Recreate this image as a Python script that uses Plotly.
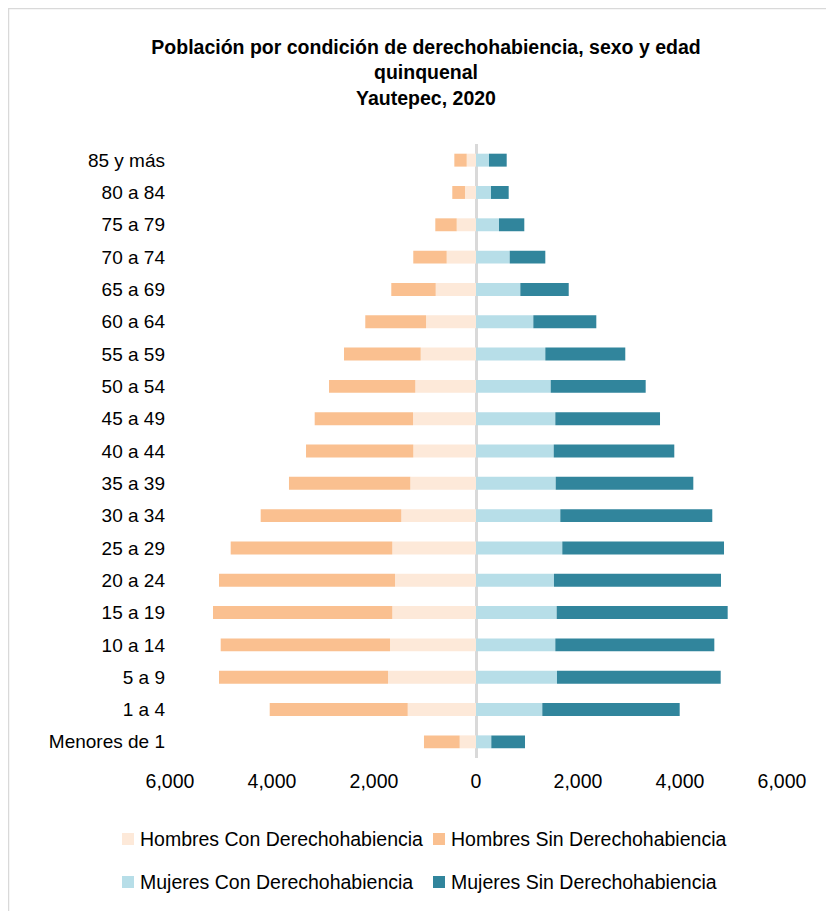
import plotly.graph_objects as go

# age groups, bottom to top
edades = [
    "Menores de 1", "1 a 4", "5 a 9", "10 a 14", "15 a 19", "20 a 24",
    "25 a 29", "30 a 34", "35 a 39", "40 a 44", "45 a 49", "50 a 54",
    "55 a 59", "60 a 64", "65 a 69", "70 a 74", "75 a 79", "80 a 84",
    "85 y más",
]

hombres_con = [320, 1339, 1725, 1686, 1641, 1588, 1641, 1465, 1288, 1229,
               1235, 1190, 1084, 980, 790, 575, 378, 216, 182]
hombres_sin = [700, 2706, 3314, 3320, 3516, 3451, 3169, 2757, 2379, 2104,
               1928, 1692, 1504, 1191, 871, 655, 420, 249, 243]
mujeres_con = [300, 1300, 1588, 1555, 1582, 1529, 1692, 1653, 1563, 1524,
               1555, 1465, 1359, 1124, 869, 661, 451, 294, 255]
mujeres_sin = [661, 2694, 3210, 3118, 3353, 3275, 3171, 2980, 2698, 2364,
               2053, 1862, 1568, 1235, 949, 698, 496, 347, 347]

tick_vals = [-6000, -4000, -2000, 0, 2000, 4000, 6000]
tick_text = ["6,000", "4,000", "2,000", "0", "2,000", "4,000", "6,000"]

series_names = [
    "Hombres Con Derechohabiencia", "Hombres Sin Derechohabiencia",
    "Mujeres Con Derechohabiencia", "Mujeres Sin Derechohabiencia",
]
colors = ["#FDE9D9", "#FAC090", "#B7DEE8", "#31859C"]

FONT = "Liberation Sans, Arial, sans-serif"

# the page body adds an 8px margin, so the figure is drawn 8px in
OFF = 8
W, H = 834 - OFF, 911 - OFF
ML, MR, MT, MB = 170 - OFF, 834 - 782, 144 - OFF, 911 - 758
PW, PH = W - ML - MR, H - MT - MB


def px_x(x):
    return (x - OFF - ML) / PW


def px_y(y):
    return (H - MB - (y - OFF)) / PH


fig = go.Figure()

values = [
    [-v for v in hombres_con],
    [-v for v in hombres_sin],
    mujeres_con,
    mujeres_sin,
]
for name, vals, col in zip(series_names, values, colors):
    fig.add_trace(
        go.Bar(
            x=vals,
            y=edades,
            orientation="h",
            name=name,
            marker=dict(color=col, line=dict(width=0)),
            showlegend=False,
        )
    )

# legend drawn by hand so the swatch sits right against the label
legend_pos = [(122, 839), (433, 839), (122, 882), (433, 882)]
shapes = []
annotations = []
for (lx, ly), name, col in zip(legend_pos, series_names, colors):
    shapes.append(dict(
        type="rect", xref="paper", yref="paper",
        x0=px_x(lx), x1=px_x(lx + 12), y0=px_y(ly + 6), y1=px_y(ly - 6),
        fillcolor=col, line=dict(width=0),
    ))
    annotations.append(dict(
        text=name, xref="paper", yref="paper",
        x=px_x(lx + 16), y=px_y(ly), xanchor="left", yanchor="middle",
        showarrow=False, font=dict(family=FONT, size=19.5, color="#000000"),
    ))

# chart border
shapes.append(dict(
    type="rect", xref="paper", yref="paper",
    x0=px_x(8), x1=px_x(870), y0=px_y(940), y1=px_y(8),
    line=dict(color="#D9D9D9", width=2.5), fillcolor="rgba(0,0,0,0)",
    layer="below",
))

fig.update_layout(
    width=W,
    height=H,
    autosize=False,
    margin=dict(l=ML, r=MR, t=MT, b=MB, autoexpand=False),
    barmode="relative",
    bargap=0.6,
    paper_bgcolor="white",
    plot_bgcolor="white",
    font=dict(family=FONT, size=19, color="#000000"),
    title=dict(
        text="<b>Población por condición de derechohabiencia, sexo y edad"
             "<br>quinquenal<br>Yautepec, 2020</b>",
        x=(426 - OFF) / W,
        xanchor="center",
        y=1 - (54 - OFF) / H,
        yanchor="top",
        font=dict(family=FONT, size=19.5, color="#000000"),
    ),
    xaxis=dict(
        range=[-6000, 6000],
        tickvals=tick_vals,
        ticktext=tick_text,
        showgrid=False,
        zeroline=True,
        zerolinecolor="#D9D9D9",
        zerolinewidth=2.5,
        showline=False,
        ticks="",
        ticklabelstandoff=9,
        layer="above traces",
        automargin=False,
        tickfont=dict(size=19.5),
    ),
    yaxis=dict(
        type="category",
        categoryorder="array",
        categoryarray=edades,
        showgrid=False,
        showline=False,
        ticks="",
        automargin=False,
        ticklabelstandoff=4,
        tickfont=dict(size=19),
    ),
    shapes=shapes,
    annotations=annotations,
)

fig.write_html("out.html")
